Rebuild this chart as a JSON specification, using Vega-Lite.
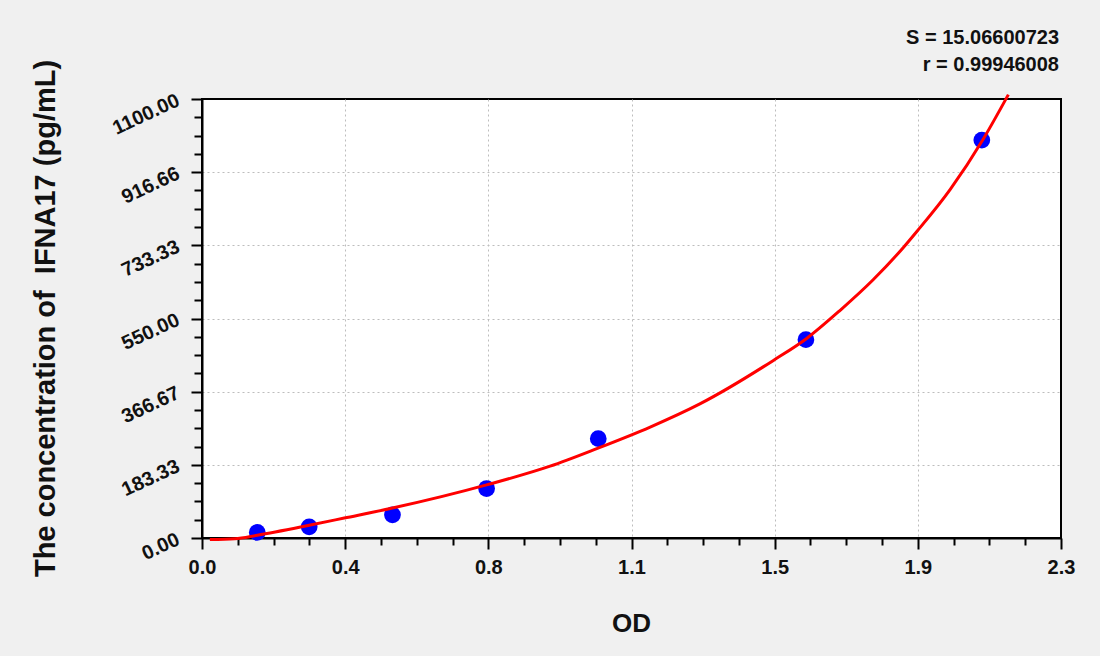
{
  "$schema": "https://vega.github.io/schema/vega-lite/v6.json",
  "width": 859,
  "height": 439,
  "autosize": {"type": "none"},
  "padding": {"left": 202, "top": 99, "right": 39, "bottom": 118},
  "background": "#f0f0f0",
  "title": {
    "text": ["S = 15.06600723", "r = 0.99946008"],
    "anchor": "end",
    "align": "right",
    "frame": "group",
    "font": "Liberation Sans",
    "fontSize": 20,
    "fontWeight": "bold",
    "color": "#111111",
    "lineHeight": 27,
    "offset": -16,
    "dx": -2
  },
  "config": {
    "view": {"fill": "white", "stroke": "black", "strokeWidth": 2},
    "axis": {
      "domainColor": "black",
      "domainWidth": 2,
      "tickColor": "black",
      "tickWidth": 2,
      "labelFont": "Liberation Sans",
      "labelFontWeight": "bold",
      "labelFontSize": 20,
      "labelColor": "#111111",
      "titleFont": "Liberation Sans",
      "titleFontWeight": "bold",
      "titleColor": "#111111",
      "gridColor": "#bdbdbd",
      "gridDash": [2, 3],
      "gridWidth": 1,
      "labelOverlap": false,
      "labelBound": false,
      "labelFlush": false
    }
  },
  "datasets": {
    "points": [
      {"od": 0.148, "conc": 14},
      {"od": 0.287, "conc": 28},
      {"od": 0.51, "conc": 58},
      {"od": 0.762, "conc": 124},
      {"od": 1.061, "conc": 249},
      {"od": 1.617, "conc": 497},
      {"od": 2.088, "conc": 997}
    ],
    "curve": [
      {"od": 0.021, "conc": -4},
      {"od": 0.088, "conc": -2},
      {"od": 0.148, "conc": 7},
      {"od": 0.287, "conc": 32},
      {"od": 0.381, "conc": 50},
      {"od": 0.51, "conc": 75},
      {"od": 0.762, "conc": 133},
      {"od": 0.932, "conc": 180},
      {"od": 1.057, "conc": 224},
      {"od": 1.2, "conc": 278},
      {"od": 1.333, "conc": 336},
      {"od": 1.53, "conc": 445},
      {"od": 1.619, "conc": 500},
      {"od": 1.708, "conc": 570},
      {"od": 1.797, "conc": 647},
      {"od": 1.878, "conc": 728},
      {"od": 1.914, "conc": 768},
      {"od": 2.003, "conc": 873},
      {"od": 2.092, "conc": 1000},
      {"od": 2.159, "conc": 1111}
    ]
  },
  "encoding": {
    "x": {
      "field": "od",
      "type": "quantitative",
      "scale": {"domain": [0, 2.3], "nice": false, "zero": false},
      "axis": {
        "title": "OD",
        "titleFontSize": 26,
        "titleX": 429,
        "titleY": 85,
        "titleBaseline": "middle",
        "titleAlign": "center",
        "values": [0, 0.0958333, 0.1916667, 0.2875, 0.3833333, 0.4791667, 0.575, 0.6708333, 0.7666667, 0.8625, 0.9583333, 1.0541667, 1.15, 1.2458333, 1.3416667, 1.4375, 1.5333333, 1.6291667, 1.725, 1.8208333, 1.9166667, 2.0125, 2.1083333, 2.2041667, 2.3],
        "labelExpr": "abs(datum.value / 0.38333333 - round(datum.value / 0.38333333)) < 0.01 ? ['0.0','0.4','0.8','1.1','1.5','1.9','2.3'][round(datum.value / 0.38333333)] : ''",
        "labelPadding": 8,
        "tickSize": {"condition": {"test": "abs(datum.value / 0.38333333 - round(datum.value / 0.38333333)) < 0.01", "value": 11}, "value": 7},
        "gridOpacity": {"condition": {"test": "abs(datum.value / 0.38333333 - round(datum.value / 0.38333333)) < 0.01 && datum.value > 0.01 && datum.value < 2.29", "value": 1}, "value": 0}
      }
    },
    "y": {
      "field": "conc",
      "type": "quantitative",
      "scale": {"domain": [0, 1100], "nice": false, "zero": false},
      "axis": {
        "title": "The concentration of\u00a0 IFNA17 (pg/mL)",
        "titleFontSize": 29,
        "titleAngle": 270,
        "titleX": -157,
        "titleY": 219,
        "titleAlign": "center",
        "titleBaseline": "middle",
        "values": [0, 45.833333, 91.666667, 137.5, 183.333333, 229.166667, 275, 320.833333, 366.666667, 412.5, 458.333333, 504.166667, 550, 595.833333, 641.666667, 687.5, 733.333333, 779.166667, 825, 870.833333, 916.666667, 962.5, 1008.333333, 1054.166667, 1100],
        "labelExpr": "abs(datum.value / 183.333333 - round(datum.value / 183.333333)) < 0.01 ? ['0.00','183.33','366.67','550.00','733.33','916.66','1100.00'][round(datum.value / 183.333333)] : ''",
        "labelAngle": -25,
        "labelAlign": "right",
        "labelBaseline": "middle",
        "labelPadding": 13,
        "tickSize": {"condition": {"test": "abs(datum.value / 183.333333 - round(datum.value / 183.333333)) < 0.01", "value": 11}, "value": 8},
        "gridOpacity": {"condition": {"test": "abs(datum.value / 183.333333 - round(datum.value / 183.333333)) < 0.01 && datum.value > 1 && datum.value < 1099", "value": 1}, "value": 0}
      }
    }
  },
  "layer": [
    {
      "data": {"name": "points"},
      "mark": {"type": "circle", "size": 280, "color": "#0000ff", "opacity": 1, "clip": false}
    },
    {
      "data": {"name": "curve"},
      "mark": {"type": "line", "color": "#ff0000", "strokeWidth": 3, "interpolate": "monotone", "clip": false}
    }
  ]
}
